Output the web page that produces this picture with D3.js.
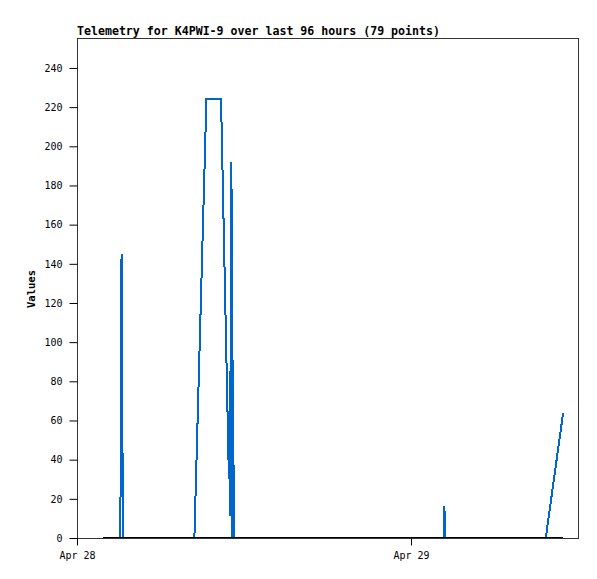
<!DOCTYPE html>
<html>
<head>
<meta charset="utf-8">
<script src="https://cdn.jsdelivr.net/npm/d3@7/dist/d3.min.js"></script>
<style>
  html, body { margin: 0; padding: 0; background: #fff; }
  svg { display: block; }
</style>
</head>
<body>
<svg id="chart" width="597" height="579"></svg>
<script>
// ---- data ----
const titleText = "Telemetry for K4PWI-9 over last 96 hours (79 points)";
const yLabel = "Values";
const yTicks = [0, 20, 40, 60, 80, 100, 120, 140, 160, 180, 200, 220, 240];
const xTickDates = ["2024-04-28T00:00", "2024-04-29T00:00"];
const xTickLabels = ["Apr 28", "Apr 29"];

const blueTimes = [
  "2024-04-28T01:50", "2024-04-28T03:05", "2024-04-28T03:09", "2024-04-28T03:12", "2024-04-28T03:18",
  "2024-04-28T08:26", "2024-04-28T09:18", "2024-04-28T10:21", "2024-04-28T10:55",
  "2024-04-28T10:57", "2024-04-28T10:59", "2024-04-28T11:06", "2024-04-28T11:08",
  "2024-04-28T11:10", "2024-04-28T11:15", "2024-04-28T11:17",
  "2024-04-29T02:20", "2024-04-29T02:22", "2024-04-29T02:24", "2024-04-29T02:27",
  "2024-04-29T09:41", "2024-04-29T10:56"
];
const blueValues = [
  0, 0, 32, 145, 0,
  0, 224, 224, 30,
  56, 11, 192, 0,
  97, 34, 0,
  0, 8, 16.5, 0,
  0, 64
];
const blackTimes = ["2024-04-28T01:50", "2024-04-29T10:56"];
const blackValues = [0, 0];

// ---- chart ----
(function () {
const parse = d3.utcParse("%Y-%m-%dT%H:%M");
const mLeft = 77, mRight = 578, mTop = 38, mBottom = 538;

const x = d3.scaleUtc()
  .domain([parse("2024-04-28T00:00"), parse("2024-04-29T12:00")])
  .range([mLeft, mRight]);
const y = d3.scaleLinear().domain([0, 255.3]).range([mBottom, mTop]);

const svg = d3.select("#chart");
const mono = "'DejaVu Sans Mono', 'Liberation Mono', monospace";

// title
svg.append("text")
  .attr("x", mLeft).attr("y", 35)
  .attr("font-family", mono).attr("font-weight", "bold")
  .attr("font-size", "11.6px").attr("fill", "#000")
  .text(titleText);

// y label
svg.append("text")
  .attr("transform", "translate(35,289) rotate(-90)")
  .attr("text-anchor", "middle")
  .attr("font-family", mono).attr("font-weight", "bold")
  .attr("font-size", "10.5px").attr("fill", "#000")
  .text(yLabel);

// series
const blueData = blueTimes.map((t, i) => ({ t: parse(t), v: blueValues[i] }));
const blackData = blackTimes.map((t, i) => ({ t: parse(t), v: blackValues[i] }));
const line = d3.line().x(d => x(d.t)).y(d => y(d.v));

svg.append("path")
  .datum(blueData)
  .attr("d", line)
  .attr("fill", "none")
  .attr("stroke", "#0066cc")
  .attr("stroke-width", 2)
  .attr("shape-rendering", "crispEdges");

svg.append("path")
  .datum(blackData)
  .attr("d", line)
  .attr("fill", "none")
  .attr("stroke", "#000")
  .attr("stroke-width", 2)
  .attr("shape-rendering", "crispEdges");

// frame
svg.append("rect")
  .attr("x", mLeft + 0.5).attr("y", mTop + 0.5)
  .attr("width", mRight - mLeft).attr("height", mBottom - mTop)
  .attr("fill", "none").attr("stroke", "#333").attr("stroke-width", 1);

// y axis
const yAxis = d3.axisLeft(y).tickValues(yTicks).tickSize(8).tickPadding(7);
const gy = svg.append("g").attr("transform", `translate(${mLeft + 0.5},0)`).call(yAxis);
gy.select(".domain").remove();
gy.selectAll("line").attr("stroke", "#000");
gy.selectAll("text").attr("font-family", mono).attr("font-size", "10px").attr("fill", "#000");

// x axis
const xAxis = d3.axisBottom(x)
  .tickValues(xTickDates.map(parse))
  .tickFormat((d, i) => xTickLabels[i])
  .tickSize(7).tickPadding(6);
const gx = svg.append("g").attr("transform", `translate(0,${mBottom + 0.5})`).call(xAxis);
gx.select(".domain").remove();
gx.selectAll("line").attr("stroke", "#000");
gx.selectAll("text").attr("font-family", mono).attr("font-size", "10px").attr("fill", "#000");
})();
</script>
</body>
</html>
